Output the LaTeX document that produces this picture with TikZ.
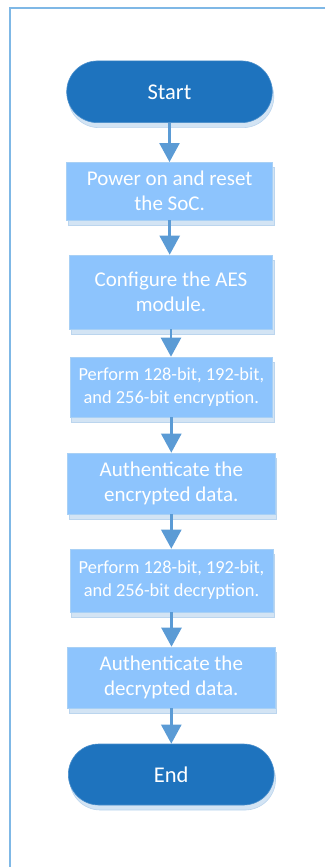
\documentclass[tikz,border=0pt]{standalone}
\usepackage{fontspec}
\setmainfont{Carlito}
\usetikzlibrary{arrows.meta,shapes.misc,shadows}
\definecolor{termc}{HTML}{1E73BE}
\definecolor{boxc}{HTML}{8DC4FD}
\definecolor{boxb}{HTML}{A8D0F5}
\definecolor{arrc}{HTML}{5B9BD5}
\definecolor{shadc}{HTML}{D3E4F4}
\definecolor{shadb}{HTML}{BBD5EE}
\definecolor{framec}{HTML}{7FB8E6}
\begin{document}
\begin{tikzpicture}[x=1pt,y=-1pt,
  shad/.style={drop shadow={shadow xshift=1.5pt,shadow yshift=-5pt,fill=shadc,draw=shadb,opacity=1}},
  term/.style={rounded rectangle,fill=termc,draw=termc!80!white,line width=0.6pt,text=white,inner sep=0pt,
     font=\fontsize{22.5}{27}\selectfont,shad},
  stepbox/.style={rectangle,fill=boxc,draw=boxb,line width=0.6pt,text=white,inner sep=0pt,align=center,
     font=\fontsize{21}{25}\selectfont,shad},
  smallbox/.style={stepbox,font=\fontsize{18.4}{23}\selectfont},
  arr/.style={draw=arrc,line width=2.5pt,-{Triangle[width=20pt,length=19pt]}}
]
\useasboundingbox (0,0) rectangle (325,867);
\draw[framec,line width=2pt] (325,8) -- (10,8) -- (10,868);

\node[term,minimum width=205.6pt,minimum height=61.7pt] (s) at (169.5,91.8) {Start};
\node[stepbox,minimum width=206pt,minimum height=57.7pt] (b1) at (169.7,191.2) {Power on and reset\\the SoC.};
\node[stepbox,minimum width=203.4pt,minimum height=74pt] (b2) at (171,292) {Configure the AES\\module.};
\node[smallbox,minimum width=202.7pt,minimum height=60pt] (b3) at (171.3,387) {Perform 128-bit, 192-bit,\\and 256-bit encryption.};
\node[stepbox,minimum width=207.3pt,minimum height=61pt] (b4) at (171.3,483.5) {Authenticate the\\encrypted data.};
\node[smallbox,minimum width=203pt,minimum height=63pt] (b5) at (171.5,580.5) {Perform 128-bit, 192-bit,\\and 256-bit decryption.};
\node[stepbox,minimum width=207.3pt,minimum height=61pt] (b6) at (171.3,677.5) {Authenticate the\\decrypted data.};
\node[term,minimum width=205.7pt,minimum height=61pt] (e) at (171.2,774.5) {End};

\draw[arr] (s.south) -- (s.south |- b1.north);
\draw[arr] (b1.south) -- (b1.south |- b2.north);
\draw[arr] (b2.south) -- (b2.south |- b3.north);
\draw[arr] (b3.south) -- (b3.south |- b4.north);
\draw[arr] (b4.south) -- (b4.south |- b5.north);
\draw[arr] (b5.south) -- (b5.south |- b6.north);
\draw[arr] (b6.south) -- (b6.south |- e.north);
\end{tikzpicture}
\end{document}
